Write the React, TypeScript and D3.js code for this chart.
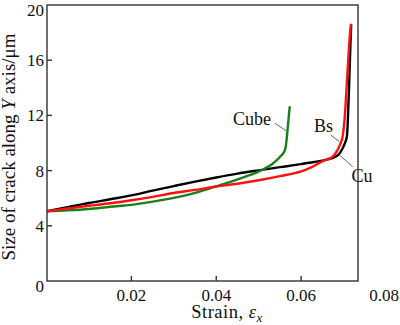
import React from "react";
import * as d3 from "d3";

const cuX = [0, 0.005, 0.01, 0.015, 0.02, 0.025, 0.03, 0.035, 0.04, 0.045, 0.05, 0.055, 0.06, 0.063, 0.066, 0.068, 0.0692, 0.0702, 0.0708, 0.0711, 0.0714, 0.0716, 0.0718];
const cuY = [5.05, 5.35, 5.65, 5.92, 6.2, 6.55, 6.88, 7.2, 7.5, 7.78, 8.02, 8.25, 8.47, 8.62, 8.8, 8.98, 9.3, 9.9, 10.5, 12.4, 15.0, 17.0, 18.55];

const bsX = [0, 0.005, 0.01, 0.015, 0.02, 0.025, 0.03, 0.035, 0.04, 0.045, 0.05, 0.055, 0.06, 0.0625, 0.0645, 0.066, 0.0672, 0.0682, 0.0692, 0.0698, 0.0704, 0.0708, 0.0711, 0.0714, 0.0717];
const bsY = [5.05, 5.25, 5.45, 5.63, 5.85, 6.1, 6.38, 6.6, 6.85, 7.05, 7.3, 7.6, 7.95, 8.25, 8.6, 8.8, 8.95, 9.3, 9.9, 10.5, 12.4, 14.5, 16.0, 17.5, 18.55];

const cubeX = [0, 0.005, 0.01, 0.015, 0.02, 0.025, 0.03, 0.035, 0.0386, 0.042, 0.0464, 0.0508, 0.0535, 0.0552, 0.0562, 0.0566, 0.0569, 0.0573];
const cubeY = [5.05, 5.12, 5.22, 5.38, 5.52, 5.75, 6.02, 6.38, 6.72, 7.05, 7.51, 8.04, 8.55, 9.05, 9.5, 10.3, 11.3, 12.6];

const xTicks = [0.02, 0.04, 0.06, 0.08];
const xTickLabels = ["0.02", "0.04", "0.06", "0.08"];
const yTicks = [0, 4, 8, 12, 16, 20];
const yTickLabels = ["0", "4", "8", "12", "16", "20"];

const W = 400, H = 325;
const plotL = 47, plotR = 358, plotT = 5, plotB = 281;
const font = "'Liberation Serif', 'Times New Roman', serif";

export default function App() {
  const x = d3.scaleLinear().domain([0, 0.08]).range([46.5, 386]);
  const y = d3.scaleLinear().domain([0, 20]).range([plotB, plotT]);
  const line = d3
    .line<[number, number]>()
    .x((d) => x(d[0]))
    .y((d) => y(d[1]))
    .curve(d3.curveMonotoneX);
  const pts = (xs: number[], ys: number[]) => xs.map((v, i) => [v, ys[i]] as [number, number]);

  const series = [
    { name: "Cu", xs: cuX, ys: cuY, color: "#000000" },
    { name: "Cube", xs: cubeX, ys: cubeY, color: "#1a7f1a" },
    { name: "Bs", xs: bsX, ys: bsY, color: "#ff1010" },
  ];

  return (
    <svg width={W} height={H} style={{ position: "absolute", left: 0, top: 0, background: "#fff" }} fontFamily={font}>
      <rect x={0} y={0} width={W} height={H} fill="#fff" />
      <defs>
        <clipPath id="plotclip">
          <rect x={plotL} y={plotT - 3} width={plotR - plotL} height={plotB - plotT + 3} />
        </clipPath>
      </defs>
      <g clipPath="url(#plotclip)">
        {series.map((s) => (
          <path key={s.name} d={line(pts(s.xs, s.ys)) || ""} fill="none" stroke={s.color} strokeWidth={2.4} strokeLinejoin="round" strokeLinecap="round" />
        ))}
      </g>
      <rect x={plotL} y={plotT} width={plotR - plotL} height={plotB - plotT} fill="none" stroke="#333" strokeWidth={1.4} />
      {xTicks.map((t, i) => (
        <g key={"xt" + i}>
          {x(t) < plotR && <line x1={x(t)} x2={x(t)} y1={plotB} y2={plotB - 5} stroke="#333" strokeWidth={1.4} />}
          <text x={Math.min(x(t), 384)} y={300.5} fontSize={17} textAnchor="middle" fill="#111">{xTickLabels[i]}</text>
        </g>
      ))}
      {yTicks.map((t, i) => (
        <g key={"yt" + i}>
          {t > 0 && t < 20 && <line x1={plotL} x2={plotL + 5} y1={y(t)} y2={y(t)} stroke="#333" strokeWidth={1.4} />}
          <text x={44} y={y(t) + (t === 0 ? 11 : t === 20 ? 11 : 6)} fontSize={17} textAnchor="end" fill="#111">{yTickLabels[i]}</text>
        </g>
      ))}
      <text x={227} y={318} fontSize={18.5} textAnchor="middle" fill="#111" letterSpacing={0.5}>
        Strain, <tspan fontStyle="italic">ε</tspan><tspan fontStyle="italic" fontSize={13} dy={4}>x</tspan>
      </text>
      <text transform={`translate(15,147) rotate(-90)`} fontSize={19} textAnchor="middle" fill="#111">
        Size of crack along <tspan fontStyle="italic">Y</tspan> axis/μm
      </text>
      <text x={252} y={124.5} fontSize={18} textAnchor="middle" fill="#111">Cube</text>
      <line x1={275} y1={123.3} x2={286} y2={130.7} stroke="#555" strokeWidth={0.9} />
      <text x={323.5} y={132} fontSize={18} textAnchor="middle" fill="#111">Bs</text>
      <line x1={330.7} y1={135} x2={339.3} y2={141.7} stroke="#555" strokeWidth={0.9} />
      <text x={362} y={182} fontSize={18} textAnchor="middle" fill="#111">Cu</text>
      <line x1={338.3} y1={154} x2={352.7} y2={166.7} stroke="#555" strokeWidth={0.9} />
    </svg>
  );
}
